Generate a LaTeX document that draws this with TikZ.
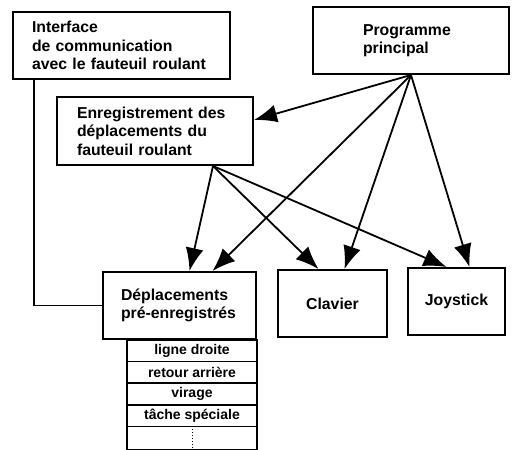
\documentclass[tikz,border=0pt]{standalone}
\usepackage{fontspec}
\setmainfont{Liberation Sans}
\usetikzlibrary{arrows.meta,positioning}

\tikzset{
  box/.style={draw,line width=2pt,inner ysep=0pt,font=\bfseries\fontsize{15.8}{18.5}\selectfont},
  cell/.style={draw,line width=1.6pt,minimum width=130pt,minimum height=21.6pt,inner sep=0pt,outer sep=0pt,
    font=\bfseries\fontsize{14}{15}\selectfont},
  arr/.style={-{Latex[length=23pt,width=18pt]}}
}

\begin{document}
\begin{tikzpicture}[x=1pt,y=-1pt,line width=1.8pt]
\useasboundingbox (0,0) rectangle (512,450);
\node[box,inner xsep=19pt,text width=179pt,minimum height=67pt,align=left] (iface) at (121.5,45.5)
  {Interface\\de communication\\avec le fauteuil roulant};
\node[box,inner xsep=50pt,text width=96pt,minimum height=67pt,align=left] (prog) at (411,40.5)
  {Programme\\principal};
\node[box,inner xsep=20pt,text width=156pt,minimum height=68pt,align=left] (enr) at (155,131)
  {Enregistrement des\\déplacements du\\fauteuil roulant};
\node[box,inner xsep=18pt,text width=117pt,minimum height=67pt,align=left] (dep) at (179.5,305.5)
  {Déplacements\\pré-enregistrés};
\node[box,minimum width=109pt,minimum height=67pt] (clav) at (332.5,303.5) {Clavier};
\node[box,minimum width=97pt,minimum height=67pt] (joy) at (456.5,301.5) {Joystick};

% liste des deplacements
\node[cell,anchor=north east] (r1) at (dep.south east) {ligne droite};
\node[cell,below=0pt of r1] (r2) {retour arrière};
\node[cell,below=0pt of r2] (r3) {virage};
\node[cell,below=0pt of r3] (r4) {tâche spéciale};
\node[cell,below=0pt of r4,minimum height=23pt] (r5) {};
\draw[line width=0.9pt,dotted] (r5.north) -- (r5.south);

\draw[line width=1.5pt] ([xshift=22pt]iface.south west) |- (dep.west);
\path[arr]
(prog.south) edge[arr] ([yshift=11pt]enr.east)
             edge[arr] ([xshift=33pt]dep.north)
             edge[arr] ([xshift=12pt]clav.north)
             edge[arr] ([xshift=13pt]joy.north)
([xshift=-41pt]enr.south east) edge[arr] ([xshift=10pt]dep.north)
             edge[arr] ([xshift=-14pt]clav.north)
             edge[arr] ([xshift=-10pt]joy.north);
\end{tikzpicture}
\end{document}
